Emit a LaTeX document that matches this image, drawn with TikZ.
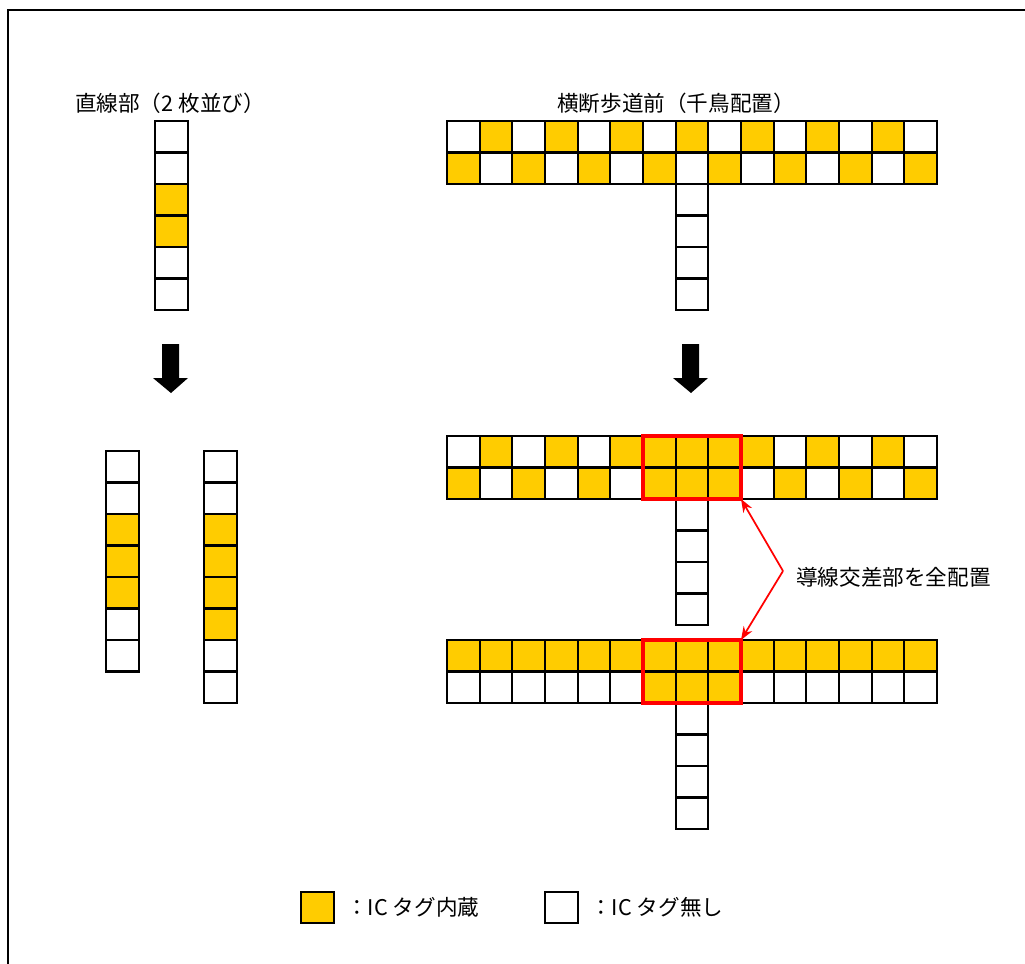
\documentclass[tikz,border=0pt]{standalone}
\usepackage{fontspec}
\usetikzlibrary{arrows.meta}
\newfontfamily\jp{Noto Sans CJK JP}
\definecolor{tagyellow}{RGB}{255,204,0}
\colorlet{Y}{tagyellow}
\colorlet{W}{white}
% one row / one column of tag cells, colours given as a list
\newcommand{\cellrow}[3]{\foreach \f [count=\i from 0] in {#3}
  \draw[cell, fill=\f] ({#1+\i*32.67},#2) rectangle ++(32.67,31.5);}
\newcommand{\cellcol}[3]{\foreach \f [count=\i from 0] in {#3}
  \draw[cell, fill=\f] (#1,{#2+\i*31.5}) rectangle ++(32.67,31.5);}

\begin{document}
\begin{tikzpicture}[x=0.75pt,y=0.75pt,yscale=-1,xscale=1,
  cell/.style={draw=black, line width=1.6pt},
  redbox/.style={draw=red, line width=2.6pt},
  callout/.style={draw=red, line width=1.3pt, -{Stealth[length=10pt,width=7.5pt]}},
  lbl/.style={inner sep=0.75pt, font=\jp\fontsize{16.2}{19}\selectfont}]
\useasboundingbox (0,0) rectangle (1025,964);
% frame
\draw[line width=1.2pt] (8,964) -- (8,10) -- (1025,10);

% Text Node
\node[lbl] (tstraight) at (170,103) {直線部（2 枚並び）};
% Text Node
\node[lbl] (tcross) at (676,103) {横断歩道前（千鳥配置）};

% straight part, before
\cellcol{155}{121}{W,W,Y,Y,W,W}
% crossing, before
\cellrow{447}{121}{W,Y,W,Y,W,Y,W,Y,W,Y,W,Y,W,Y,W}
\cellrow{447}{152.5}{Y,W,Y,W,Y,W,Y,W,Y,W,Y,W,Y,W,Y}
\cellcol{675.7}{184}{W,W,W,W}

% block arrows
\fill (162,344) -- (179,344) -- (179,378) -- (188,378) -- (171,393) -- (153,378) -- (162,378) -- cycle;
\fill (682,344) -- (699,344) -- (699,378) -- (708,378) -- (691,393) -- (673,378) -- (682,378) -- cycle;

% straight part, after
\cellcol{106}{451}{W,W,Y,Y,Y,W,W}
\cellcol{204}{451}{W,W,Y,Y,Y,Y,W,W}

% crossing, after (two variants)
\cellrow{447}{436}{W,Y,W,Y,W,Y,Y,Y,Y,Y,W,Y,W,Y,W}
\cellrow{447}{467.5}{Y,W,Y,W,Y,W,Y,Y,Y,W,Y,W,Y,W,Y}
\cellcol{675.7}{499}{W,W,W,W}
\draw[redbox] (643,436) rectangle (741,499);

\cellrow{447}{640}{Y,Y,Y,Y,Y,Y,Y,Y,Y,Y,Y,Y,Y,Y,Y}
\cellrow{447}{671.5}{W,W,W,W,W,W,Y,Y,Y,W,W,W,W,W,W}
\cellcol{675.7}{703}{W,W,W,W}
\draw[redbox] (643,640) rectangle (741,703);

% callout
\coordinate (midcorner) at (741,499);
\coordinate (lowcorner) at (741,640);
\coordinate (bend) at (783,571);
\node[lbl, anchor=west] (tall) at (795,577) {導線交差部を全配置};
\draw[callout] (bend) -- (midcorner);
\draw[callout] (bend) -- (lowcorner);

% legend
\draw[cell, fill=Y] (301,892) rectangle (334,923);
\node[lbl, anchor=west] (ton) at (345,907) {：IC タグ内蔵};
\draw[cell, fill=W] (545,892) rectangle (578,923);
\node[lbl, anchor=west] (toff) at (589,907) {：IC タグ無し};
\end{tikzpicture}
\end{document}
